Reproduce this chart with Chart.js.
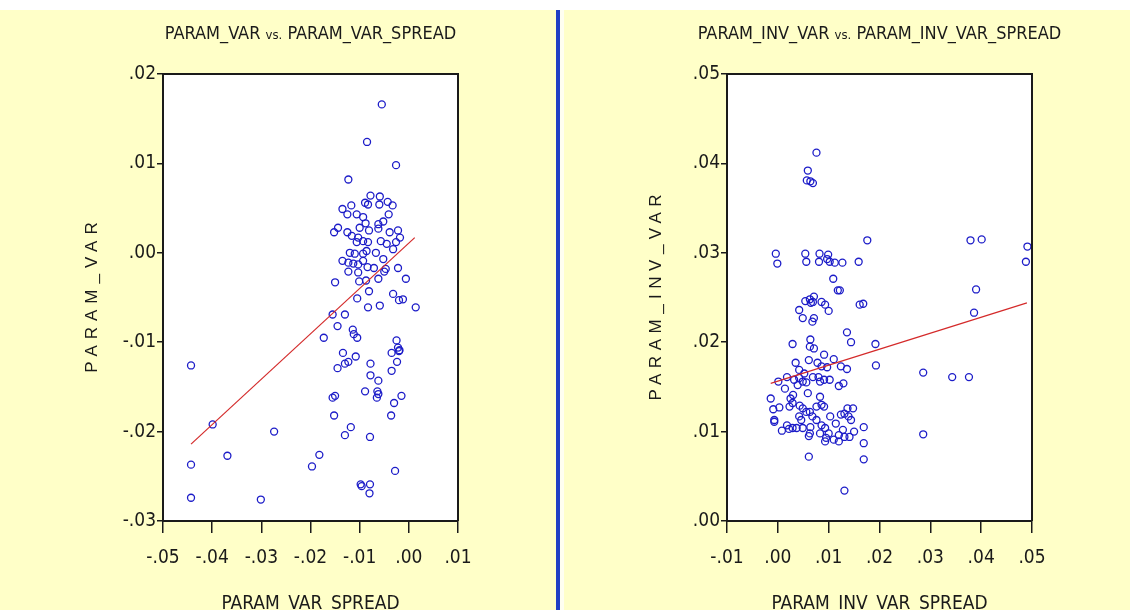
<!DOCTYPE html>
<html>
<head>
<meta charset="utf-8">
<script src="https://cdn.jsdelivr.net/npm/chart.js@4.4.1/dist/chart.umd.min.js"></script>
<style>
  html, body { margin: 0; padding: 0; }
  body { width: 1130px; height: 610px; background: #ffffc8; position: relative; overflow: hidden; }
  #topband { position: absolute; left: 0; top: 0; width: 1130px; height: 10px; background: #ffffff; }
  #divider { position: absolute; left: 556px; top: 10px; width: 4px; height: 600px; background: #1f3fc4; }
  #divider2 { position: absolute; left: 560px; top: 10px; width: 4px; height: 600px; background: #fffff0; }
  #leftChart { position: absolute; left: 0; top: 0; }
  #rightChart { position: absolute; left: 564px; top: 0; }
</style>
</head>
<body>
<div id="topband"></div>
<div id="divider"></div>
<div id="divider2"></div>
<canvas id="leftChart" width="556" height="610"></canvas>
<canvas id="rightChart" width="566" height="610"></canvas>
<script>
// ---- left panel: PARAM_VAR vs. PARAM_VAR_SPREAD ----
const leftSpread = [
  -0.0055, -0.0085, -0.0026, -0.0123,
  -0.0078, -0.0059, -0.0043, -0.0033, -0.0089, -0.0083, -0.0060, -0.0135, -0.0117, -0.0125,
  -0.0106, -0.0093, -0.0041, -0.0052, -0.0062, -0.0088, -0.0100, -0.0081, -0.0062, -0.0039,
  -0.0022, -0.0018, -0.0144, -0.0152, -0.0125, -0.0116, -0.0103, -0.0093, -0.0083, -0.0106,
  -0.0057, -0.0045, -0.0026, -0.0120, -0.0110, -0.0093, -0.0086, -0.0067, -0.0032, -0.0135,
  -0.0123, -0.0113, -0.0103, -0.0093, -0.0052, -0.0123, -0.0103, -0.0084, -0.0071, -0.0047,
  -0.0050, -0.0150, -0.0101, -0.0087, -0.0062, -0.0022, -0.0006, -0.0081, -0.0032, -0.0020,
  -0.0012, -0.0105, -0.0083, -0.0059, 0.0014,
  -0.0155, -0.0130, -0.0145, -0.0173, -0.0114, -0.0112, -0.0105, -0.0134, -0.0108, -0.0130,
  -0.0123, -0.0145, -0.0078, -0.0078, -0.0062, -0.0064, -0.0062, -0.0065, -0.0089, -0.0155,
  -0.0150, -0.0152, -0.0025, -0.0035, -0.0022, -0.0020, -0.0019, -0.0024, -0.0035, -0.0015,
  -0.0030, -0.0036, -0.0118, -0.0130, -0.0079, -0.0182, -0.0197, -0.0028, -0.0098, -0.0096,
  -0.0079, -0.0080, -0.0274, -0.0301, -0.0369, -0.0399, -0.0443, -0.0443, -0.0443
];
const leftVar = [
  0.0166, 0.0124, 0.0098, 0.0082,
  0.0064, 0.0063, 0.0057, 0.0053, 0.0056, 0.0054, 0.0054, 0.0049, 0.0053, 0.0043,
  0.0043, 0.0040, 0.0043, 0.0035, 0.0032, 0.0033, 0.0028, 0.0025, 0.0027, 0.0023,
  0.0025, 0.0017, 0.0028, 0.0023, 0.0023, 0.0019, 0.0017, 0.0013, 0.0012, 0.0012,
  0.0013, 0.0010, 0.0012, 0.0000, -0.0001, -0.0001, 0.0002, 0.0000, 0.0004, -0.0009,
  -0.0011, -0.0012, -0.0013, -0.0009, -0.0007, -0.0021, -0.0022, -0.0016, -0.0017, -0.0018,
  -0.0021, -0.0033, -0.0032, -0.0031, -0.0029, -0.0017, -0.0029, -0.0043, -0.0046, -0.0053,
  -0.0052, -0.0051, -0.0061, -0.0059, -0.0061,
  -0.0069, -0.0069, -0.0082, -0.0095, -0.0086, -0.0091, -0.0095, -0.0112, -0.0116, -0.0124,
  -0.0122, -0.0129, -0.0124, -0.0137, -0.0143, -0.0155, -0.0158, -0.0162, -0.0155, -0.0162,
  -0.0160, -0.0182, -0.0098, -0.0112, -0.0106, -0.0110, -0.0109, -0.0122, -0.0132, -0.0160,
  -0.0168, -0.0182, -0.0195, -0.0204, -0.0206, -0.0226, -0.0239, -0.0244, -0.0259, -0.0261,
  -0.0259, -0.0269, -0.0200, -0.0276, -0.0227, -0.0192, -0.0126, -0.0237, -0.0274
];
const leftFitX = [-0.0443, 0.0012];
const leftFitY = [-0.0214, 0.0017];
const leftXTicks = [-0.05, 0.01];
const leftYTicks = [-0.03, 0.02];

// ---- right panel: PARAM_INV_VAR vs. PARAM_INV_VAR_SPREAD ----
const rightSpread = [
  0.0076, 0.0059, 0.0057, 0.0064, 0.0069, -0.0004, -0.0001, 0.0054, 0.0056, 0.0082,
  0.0081, 0.0099, 0.0097, 0.0102, 0.0112, 0.0127, 0.0159, 0.0176, 0.0109, 0.0118,
  0.0122, 0.0379, 0.0401, 0.0491, 0.0488, 0.0390, 0.0386, 0.0161, 0.0168,
  0.0054, 0.0063, 0.0071, 0.0065, 0.0069, 0.0086, 0.0093, 0.0100, 0.0042, 0.0049,
  0.0068, 0.0071, 0.0029, 0.0136, 0.0144, 0.0192, 0.0193, 0.0286, 0.0343, 0.0376,
  0.0286, 0.0131, 0.0061, 0.0169, 0.0169, 0.0169,
  0.0064, 0.0063, 0.0071, 0.0091, 0.0110, 0.0035, 0.0061, 0.0078, 0.0086, 0.0097,
  0.0124, 0.0136, 0.0018, 0.0001, 0.0032, 0.0042, 0.0049, 0.0039, 0.0056, 0.0069,
  0.0080, 0.0083, 0.0091, 0.0102, 0.0120, 0.0129, -0.0014, -0.0009, 0.0003, 0.0014,
  0.0025, 0.0029, 0.0043, 0.0030, 0.0059, 0.0083, 0.0086, 0.0091, 0.0063, 0.0068,
  0.0023, -0.0007, -0.0007, 0.0008, 0.0018, 0.0029, 0.0037, 0.0042, 0.0046, 0.0076,
  0.0086, 0.0093, 0.0103, 0.0114, 0.0124, 0.0131, 0.0137, 0.0148, 0.0139, 0.0144,
  0.0150, 0.0141, 0.0120, 0.0110, 0.0093, 0.0083, 0.0061, 0.0064, 0.0049, 0.0022,
  0.0095, 0.0100, 0.0131, 0.0128, 0.0120, 0.0063, 0.0049, 0.0056, 0.0076, 0.0042,
  0.0052
];
const rightInvVar = [
  0.0412, 0.0392, 0.0381, 0.0380, 0.0378, 0.0299, 0.0288, 0.0299, 0.0290, 0.0299,
  0.0290, 0.0298, 0.0293, 0.0290, 0.0289, 0.0289, 0.0290, 0.0314, 0.0271, 0.0258,
  0.0258, 0.0314, 0.0315, 0.0307, 0.0290, 0.0259, 0.0233, 0.0242, 0.0243,
  0.0246, 0.0248, 0.0251, 0.0244, 0.0245, 0.0245, 0.0242, 0.0235, 0.0236, 0.0227,
  0.0223, 0.0227, 0.0198, 0.0211, 0.0200, 0.0198, 0.0174, 0.0166, 0.0161, 0.0161,
  0.0097, 0.0034, 0.0072, 0.0105, 0.0087, 0.0069,
  0.0203, 0.0195, 0.0193, 0.0186, 0.0181, 0.0177, 0.0180, 0.0177, 0.0173, 0.0172,
  0.0173, 0.0170, 0.0161, 0.0156, 0.0158, 0.0160, 0.0156, 0.0152, 0.0155, 0.0161,
  0.0161, 0.0156, 0.0158, 0.0158, 0.0151, 0.0154, 0.0137, 0.0125, 0.0127, 0.0148,
  0.0137, 0.0132, 0.0129, 0.0141, 0.0143, 0.0139, 0.0130, 0.0128, 0.0122, 0.0117,
  0.0128, 0.0113, 0.0111, 0.0101, 0.0107, 0.0104, 0.0104, 0.0117, 0.0113, 0.0113,
  0.0107, 0.0104, 0.0117, 0.0109, 0.0119, 0.0120, 0.0126, 0.0126, 0.0117, 0.0113,
  0.0100, 0.0094, 0.0096, 0.0091, 0.0089, 0.0098, 0.0095, 0.0105, 0.0104, 0.0103,
  0.0093, 0.0098, 0.0094, 0.0102, 0.0089, 0.0098, 0.0126, 0.0122, 0.0128, 0.0169,
  0.0165
];
const rightFitX = [-0.0014, 0.0490];
const rightFitY = [0.0154, 0.0244];
const rightXTicks = [-0.01, 0.05];
const rightYTicks = [0.00, 0.05];

const NARROW = '"Liberation Sans Narrow", "Arial Narrow", "DejaVu Sans Condensed", sans-serif';
const INK = '#1a1a1a';

// tick labels like ".02", "-.01", ".00"
function fmt(v) {
  let s = (Math.round(v * 100) / 100).toFixed(2);
  return s.replace('0.', '.');
}

function toPoints(xs, ys) {
  return xs.map((x, i) => ({ x: x, y: ys[i] }));
}

// draws white plot area, the top/right frame and all the titles
const decor = {
  id: 'decor',
  beforeDraw(chart) {
    const { ctx, chartArea: a } = chart;
    ctx.save();
    ctx.fillStyle = '#ffffff';
    ctx.fillRect(a.left, a.top, a.right - a.left, a.bottom - a.top);
    ctx.restore();
  },
  afterDraw(chart, args, opts) {
    const { ctx, chartArea: a } = chart;
    const cx = (a.left + a.right) / 2;
    ctx.save();
    ctx.strokeStyle = INK;
    ctx.lineWidth = 2;
    ctx.beginPath();
    ctx.moveTo(a.left, a.top);
    ctx.lineTo(a.right, a.top);
    ctx.lineTo(a.right, a.bottom);
    ctx.stroke();

    // chart title, "vs." in a smaller size
    ctx.fillStyle = INK;
    ctx.textBaseline = 'alphabetic';
    ctx.textAlign = 'left';
    let total = 0;
    for (const r of opts.title) {
      ctx.font = r.size + 'px ' + NARROW;
      r.w = ctx.measureText(r.text).width;
      total += r.w;
    }
    let x = cx - total / 2;
    for (const r of opts.title) {
      ctx.font = r.size + 'px ' + NARROW;
      ctx.fillText(r.text, x, 39);
      x += r.w;
    }

    // x axis title
    ctx.font = '19px ' + NARROW;
    ctx.textAlign = 'center';
    ctx.fillText(opts.xTitle, cx, 609);

    // y axis title, rotated and spaced out
    ctx.translate(92, (a.top + a.bottom) / 2);
    ctx.rotate(-Math.PI / 2);
    ctx.font = '17px "Liberation Sans", Arial, sans-serif';
    ctx.letterSpacing = opts.spacing + 'px';
    ctx.textBaseline = 'middle';
    ctx.fillText(opts.yTitle, opts.spacing / 2, 0);
    ctx.restore();
  }
};

function makeChart(id, xs, ys, fitX, fitY, xr, yr, title, xTitle, yTitle, spacing) {
  const tickFont = { family: NARROW, size: 19 };
  return new Chart(document.getElementById(id), {
    type: 'scatter',
    data: {
      datasets: [
        {
          data: toPoints(fitX, fitY),
          showLine: true,
          borderColor: '#d42a2a',
          borderWidth: 1.2,
          pointRadius: 0,
          order: 0
        },
        {
          data: toPoints(xs, ys),
          pointStyle: 'circle',
          pointRadius: 3.5,
          borderWidth: 1.3,
          borderColor: '#1c1cc8',
          backgroundColor: 'rgba(0,0,0,0)',
          order: 1
        }
      ]
    },
    options: {
      responsive: false,
      animation: false,
      events: [],
      layout: { padding: { left: 0, right: 98, top: 74, bottom: 39 } },
      plugins: {
        legend: { display: false },
        tooltip: { enabled: false },
        decor: { title: title, xTitle: xTitle, yTitle: yTitle, spacing: spacing }
      },
      scales: {
        x: {
          type: 'linear',
          min: xr[0],
          max: xr[1],
          afterFit(s) { s.height = 50; },
          ticks: { stepSize: 0.01, callback: fmt, font: tickFont, color: INK, padding: 14, maxRotation: 0 },
          grid: { display: true, drawOnChartArea: false, drawTicks: true, tickLength: 12, color: INK, lineWidth: 1.5 },
          border: { display: true, color: INK, width: 2 }
        },
        y: {
          type: 'linear',
          min: yr[0],
          max: yr[1],
          afterFit(s) { s.width = 163; },
          ticks: { stepSize: 0.01, callback: fmt, font: tickFont, color: INK, padding: 1 },
          grid: { display: true, drawOnChartArea: false, drawTicks: true, tickLength: 6, color: INK, lineWidth: 1.5 },
          border: { display: true, color: INK, width: 2 }
        }
      }
    },
    plugins: [decor]
  });
}

makeChart('leftChart', leftSpread, leftVar, leftFitX, leftFitY, leftXTicks, leftYTicks,
  [{ text: 'PARAM_VAR ', size: 18 }, { text: 'vs.', size: 13 }, { text: ' PARAM_VAR_SPREAD', size: 18 }],
  'PARAM_VAR_SPREAD', 'PARAM_VAR', 6);

makeChart('rightChart', rightSpread, rightInvVar, rightFitX, rightFitY, rightXTicks, rightYTicks,
  [{ text: 'PARAM_INV_VAR ', size: 18 }, { text: 'vs.', size: 13 }, { text: ' PARAM_INV_VAR_SPREAD', size: 18 }],
  'PARAM_INV_VAR_SPREAD', 'PARAM_INV_VAR', 5.5);
</script>
</body>
</html>
